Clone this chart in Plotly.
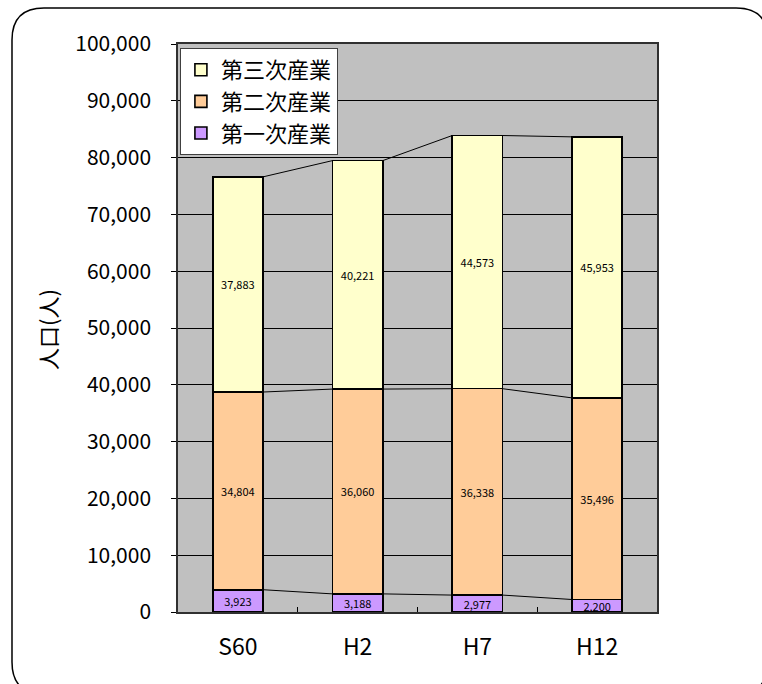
import plotly.graph_objects as go

# Population by industry sector (persons)
periods = ["S60", "H2", "H7", "H12"]
primary = [3923, 3188, 2977, 2200]
secondary = [34804, 36060, 36338, 35496]
tertiary = [37883, 40221, 44573, 45953]

series_names = ["第一次産業", "第二次産業", "第三次産業"]
series_values = [primary, secondary, tertiary]
series_colors = ["#CC99FF", "#FFCC99", "#FFFFCC"]

y_ticks = list(range(0, 100001, 10000))

FONT = "Noto Sans CJK JP"
W, H = 762, 684
ML, MR, MT, MB = 178, 105, 44, 72
PW, PH = W - ML - MR, H - MT - MB
BAR_W = 0.42

xs = list(range(len(periods)))

fig = go.Figure()
for name, vals, color in zip(series_names, series_values, series_colors):
    fig.add_trace(go.Bar(
        x=xs, y=vals, name=name, width=BAR_W,
        marker=dict(color=color, line=dict(color="black", width=1.6)),
        text=[f"{v:,}" for v in vals],
        textposition="inside", insidetextanchor="middle",
        textfont=dict(family=FONT, size=11, color="black"),
    ))

# Series lines joining the top of each segment between neighbouring bars
cum = [0] * len(periods)
for vals in series_values:
    cum = [c + v for c, v in zip(cum, vals)]
    lx, ly = [], []
    for i in range(len(periods) - 1):
        lx += [xs[i] + BAR_W / 2, xs[i + 1] - BAR_W / 2, None]
        ly += [cum[i], cum[i + 1], None]
    fig.add_trace(go.Scatter(x=lx, y=ly, mode="lines", showlegend=False,
                             hoverinfo="skip",
                             line=dict(color="black", width=1)))


def px_to_paper(px, py):
    return (px - ML) / PW, (H - MB - py) / PH


def rounded_rect(x0, y0, x1, y1, r):
    pts = {
        "a": px_to_paper(x0 + r, y0), "b": px_to_paper(x1 - r, y0),
        "c": px_to_paper(x1, y0), "d": px_to_paper(x1, y0 + r),
        "e": px_to_paper(x1, y1 - r), "f": px_to_paper(x1, y1),
        "g": px_to_paper(x1 - r, y1), "h": px_to_paper(x0 + r, y1),
        "i": px_to_paper(x0, y1), "j": px_to_paper(x0, y1 - r),
        "k": px_to_paper(x0, y0 + r), "l": px_to_paper(x0, y0),
    }
    p = lambda k: f"{pts[k][0]:.5f},{pts[k][1]:.5f}"
    return (f"M {p('a')} L {p('b')} Q {p('c')} {p('d')} L {p('e')} "
            f"Q {p('f')} {p('g')} L {p('h')} Q {p('i')} {p('j')} "
            f"L {p('k')} Q {p('l')} {p('a')} Z")


fig.add_shape(type="path", xref="paper", yref="paper",
              path=rounded_rect(12, 8, 768, 694, 32),
              line=dict(color="black", width=1.5), layer="below")

ax_x, ax_y = px_to_paper(47, 330)
fig.add_annotation(x=ax_x, y=ax_y, xref="paper", yref="paper",
                   xanchor="center", yanchor="middle",
                   text="人口(人)", textangle=-90, showarrow=False,
                   font=dict(family=FONT, size=22, color="black"))

fig.update_layout(
    width=W, height=H,
    margin=dict(l=ML, r=MR, t=MT, b=MB, pad=0),
    barmode="stack",
    paper_bgcolor="white",
    plot_bgcolor="#C0C0C0",
    font=dict(family=FONT, color="black"),
    uniformtext=dict(minsize=11, mode="show"),
    showlegend=True,
    legend=dict(
        x=0.004, y=0.993, xanchor="left", yanchor="top",
        bgcolor="white", bordercolor="#404040", borderwidth=1,
        font=dict(family=FONT, size=22, color="black"),
        traceorder="reversed", itemwidth=30, tracegroupgap=0,
    ),
    xaxis=dict(
        range=[-0.5, len(periods) - 0.5],
        tickmode="array", tickvals=xs, ticktext=periods,
        ticks="", showgrid=False, zeroline=False,
        showline=True, linecolor="#303030", linewidth=1.5, mirror=True,
        tickfont=dict(family=FONT, size=23, color="black"),
        ticklabelstandoff=14,
        minor=dict(tickmode="array", tickvals=[x + 0.5 for x in xs[:-1]],
                   ticks="inside", ticklen=5, tickcolor="black", tickwidth=1,
                   showgrid=False),
    ),
    yaxis=dict(
        range=[0, 100000],
        tickmode="array", tickvals=y_ticks,
        ticktext=[f"{v:,}" for v in y_ticks],
        ticks="outside", ticklen=5, tickcolor="black",
        showgrid=True, gridcolor="black", gridwidth=1,
        zeroline=False,
        showline=True, linecolor="#303030", linewidth=1.5, mirror=True,
        tickfont=dict(family=FONT, size=21, color="black"),
        ticklabelstandoff=16,
    ),
)

fig.write_html("out.html")
